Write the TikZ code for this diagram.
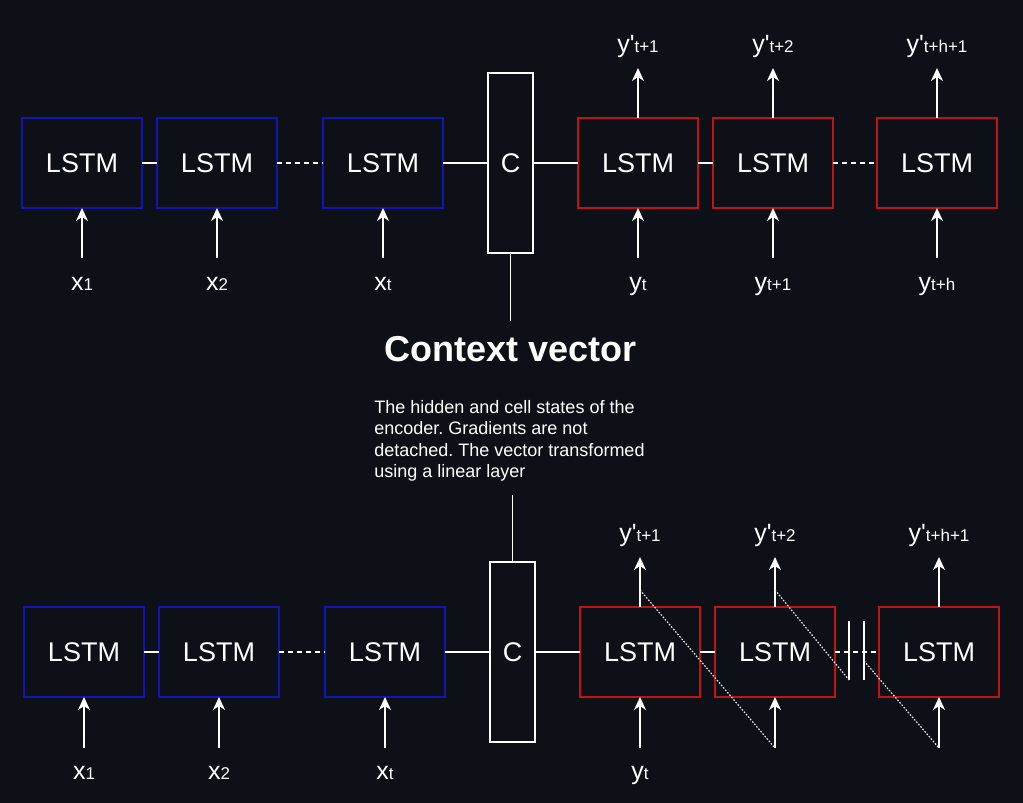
\documentclass[tikz,border=0pt]{standalone}
\usepackage{fontspec}
\setmainfont{Liberation Sans}
\usepackage{tikz}
\usetikzlibrary{positioning,arrows.meta,calc}
\definecolor{cfondo}{HTML}{0D1117}
\definecolor{cazul}{HTML}{1414B4}
\definecolor{crojo}{HTML}{C01414}
\definecolor{cpunto}{HTML}{E8E8E8}
\newcommand{\sublbl}[2]{{\fontsize{12.5}{14}\selectfont #1}{\fontsize{8.5}{10}\selectfont #2}}
\tikzset{
  lstme/.style={rectangle, draw=cazul, line width=0.75pt, fill=cfondo, outer sep=0pt,
    minimum width=60pt, minimum height=45pt, inner sep=0pt, text=white,
    font=\fontsize{13.5}{15}\selectfont},
  lstmd/.style={lstme, draw=crojo},
  ctxbox/.style={rectangle, draw=white, line width=0.75pt, fill=cfondo, outer sep=0pt,
    minimum width=22.5pt, minimum height=90pt, inner sep=0pt, text=white,
    font=\fontsize{13.5}{15}\selectfont},
  linea/.style={draw=white, line width=0.75pt},
  guion/.style={linea, dash pattern=on 2.5pt off 2pt},
  flecha/.style={-{Stealth[length=6.5pt,width=6pt,inset=2pt]}, linea},
  punteada/.style={draw=cpunto, line width=0.6pt, dash pattern=on 0.8pt off 0.8pt},
  etq/.style={text=white, inner sep=0pt, anchor=base},
}

\begin{document}
\frenchspacing
\begin{tikzpicture}[x=0.5pt, y=-0.5pt]
  \useasboundingbox[fill=cfondo] (0,0) rectangle (1023,803);

  % --- first row: encoder / context / decoder
  \node[lstme] (e1) at (82,163) {LSTM};
  \node[lstme, right=7.5pt of e1] (e2) {LSTM};
  \node[lstme, right=23pt of e2] (e3) {LSTM};
  \node[ctxbox, right=22.5pt of e3] (c) {C};
  \node[lstmd, right=22.5pt of c] (d1) {LSTM};
  \node[lstmd, right=7.5pt of d1] (d2) {LSTM};
  \node[lstmd, right=22pt of d2] (d3) {LSTM};

  \draw[linea] (e1) -- (e2);
  \draw[guion] (e2) -- (e3);
  \draw[linea] (e3) -- (c);
  \draw[linea] (c) -- (d1);
  \draw[linea] (d1) -- (d2);
  \draw[guion] (d2) -- (d3);

  % inputs
  \coordinate (e1in) at ($(e1.south)+(0,50)$);
  \coordinate (e2in) at ($(e2.south)+(0,50)$);
  \coordinate (e3in) at ($(e3.south)+(0,50)$);
  \coordinate (d1in) at ($(d1.south)+(0,50)$);
  \coordinate (d2in) at ($(d2.south)+(0,50)$);
  \coordinate (d3in) at ($(d3.south)+(0,50)$);
  \draw[flecha] (e1in) -- (e1.south);
  \draw[flecha] (e2in) -- (e2.south);
  \draw[flecha] (e3in) -- (e3.south);
  \draw[flecha] (d1in) -- (d1.south);
  \draw[flecha] (d2in) -- (d2.south);
  \draw[flecha] (d3in) -- (d3.south);
  \node[etq] (lx1) at ($(e1in)+(0,32)$) {\sublbl{x}{1}};
  \node[etq] (lx2) at ($(e2in)+(0,32)$) {\sublbl{x}{2}};
  \node[etq] (lxt) at ($(e3in)+(0,32)$) {\sublbl{x}{t}};
  \node[etq] (lyt) at ($(d1in)+(0,32)$) {\sublbl{y}{t}};
  \node[etq] (lyt1) at ($(d2in)+(0,32)$) {\sublbl{y}{t+1}};
  \node[etq] (lyth) at ($(d3in)+(0,32)$) {\sublbl{y}{t+h}};

  % outputs
  \coordinate (d1out) at ($(d1.north)+(0,-50)$);
  \coordinate (d2out) at ($(d2.north)+(0,-50)$);
  \coordinate (d3out) at ($(d3.north)+(0,-50)$);
  \draw[flecha] (d1.north) -- (d1out);
  \draw[flecha] (d2.north) -- (d2out);
  \draw[flecha] (d3.north) -- (d3out);
  \node[etq] (lp1) at ($(d1out)+(0,-16)$) {\sublbl{y\textquotesingle}{t+1}};
  \node[etq] (lp2) at ($(d2out)+(0,-16)$) {\sublbl{y\textquotesingle}{t+2}};
  \node[etq] (lp3) at ($(d3out)+(0,-16)$) {\sublbl{y\textquotesingle}{t+h+1}};

  % --- context vector
  \coordinate (cv1) at ($(c.south)+(0,68)$);
  \draw[linea] (c.south) -- (cv1);
  \node[text=white, font=\fontsize{18}{20}\selectfont\bfseries] (cvec) at (511,349) {Context vector};
  \node[text=white, inner sep=0pt, anchor=north west, align=left,
    font=\fontsize{9}{10.75}\selectfont] (desc) at (374,400)
    {The hidden and cell states of the\\encoder. Gradients are not\\detached. The vector transformed\\using a linear layer};

  % --- second row
  \node[lstme] (f1) at (84,652) {LSTM};
  \node[lstme, right=7.5pt of f1] (f2) {LSTM};
  \node[lstme, right=23pt of f2] (f3) {LSTM};
  \node[ctxbox, right=22.5pt of f3] (c2) {C};
  \node[lstmd, right=22.5pt of c2] (g1) {LSTM};
  \node[lstmd, right=7.5pt of g1] (g2) {LSTM};
  \node[lstmd, right=22pt of g2] (g3) {LSTM};

  \coordinate (cv2) at ($(c2.north)+(0,-67)$);
  \draw[linea] (cv2) -- (c2.north);

  \draw[linea] (f1) -- (f2);
  \draw[guion] (f2) -- (f3);
  \draw[linea] (f3) -- (c2);
  \draw[linea] (c2) -- (g1);
  \draw[linea] (g1) -- (g2);
  \draw[guion] (g2) -- (g3);
  % break mark
  \draw[linea] (849,621) -- (849,680);
  \draw[linea] (864,621) -- (864,680);

  % inputs
  \coordinate (f1in) at ($(f1.south)+(0,51)$);
  \coordinate (f2in) at ($(f2.south)+(0,51)$);
  \coordinate (f3in) at ($(f3.south)+(0,51)$);
  \coordinate (g1in) at ($(g1.south)+(0,51)$);
  \coordinate (g2in) at ($(g2.south)+(0,51)$);
  \coordinate (g3in) at ($(g3.south)+(0,51)$);
  \draw[flecha] (f1in) -- (f1.south);
  \draw[flecha] (f2in) -- (f2.south);
  \draw[flecha] (f3in) -- (f3.south);
  \draw[flecha] (g1in) -- (g1.south);
  \draw[flecha] (g2in) -- (g2.south);
  \draw[flecha] (g3in) -- (g3.south);
  \node[etq] (mx1) at ($(f1in)+(0,31)$) {\sublbl{x}{1}};
  \node[etq] (mx2) at ($(f2in)+(0,31)$) {\sublbl{x}{2}};
  \node[etq] (mxt) at ($(f3in)+(0,31)$) {\sublbl{x}{t}};
  \node[etq] (myt) at ($(g1in)+(0,31)$) {\sublbl{y}{t}};

  % outputs
  \coordinate (g1out) at ($(g1.north)+(0,-50)$);
  \coordinate (g2out) at ($(g2.north)+(0,-50)$);
  \coordinate (g3out) at ($(g3.north)+(0,-50)$);
  \draw[flecha] (g1.north) -- (g1out);
  \draw[flecha] (g2.north) -- (g2out);
  \draw[flecha] (g3.north) -- (g3out);
  \node[etq] (mp1) at ($(g1out)+(0,-16)$) {\sublbl{y\textquotesingle}{t+1}};
  \node[etq] (mp2) at ($(g2out)+(0,-16)$) {\sublbl{y\textquotesingle}{t+2}};
  \node[etq] (mp3) at ($(g3out)+(0,-16)$) {\sublbl{y\textquotesingle}{t+h+1}};

  % feedback of predictions
  \coordinate (fb1a) at ($(g1.north)+(0,-17)$);
  \coordinate (fb2a) at ($(g2.north)+(0,-17)$);
  \coordinate (fb2b) at (849,680);
  \coordinate (fb3a) at (864,661);
  \draw[punteada] (fb1a) -- (g2in);
  \draw[punteada] (fb2a) -- (fb2b);
  \draw[punteada] (fb3a) -- (g3in);
\end{tikzpicture}
\end{document}
